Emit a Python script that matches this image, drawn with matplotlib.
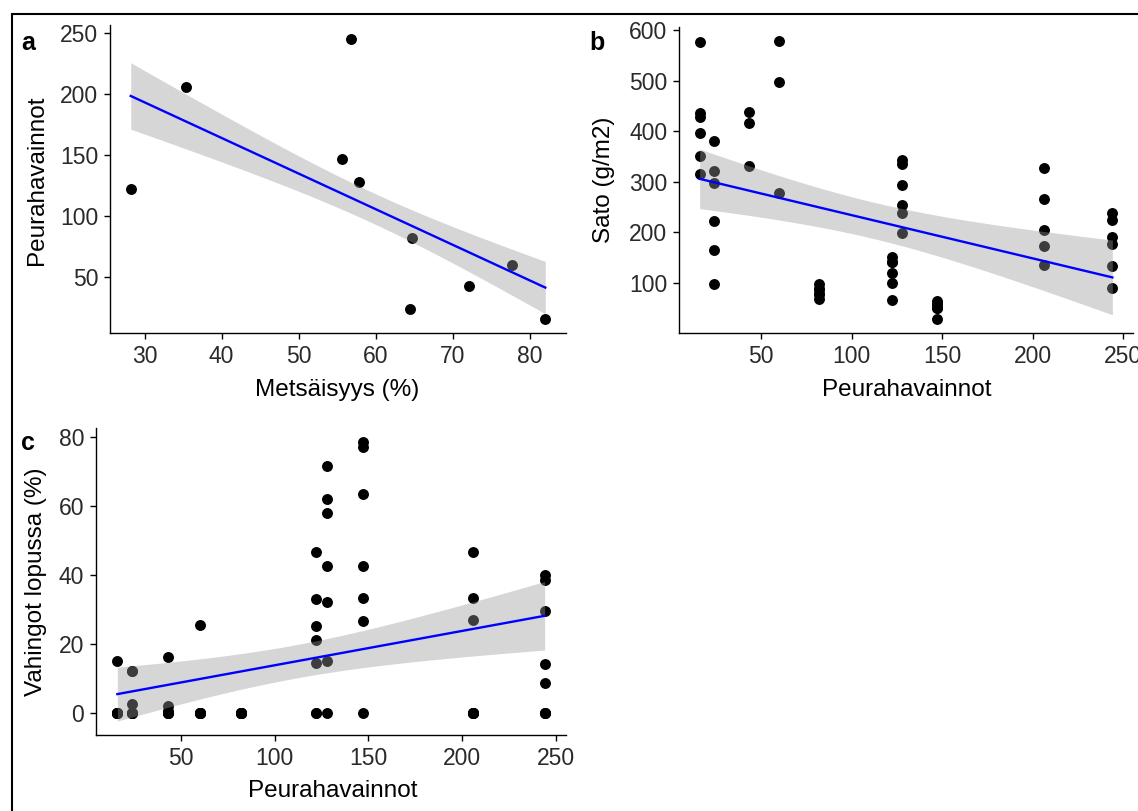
import numpy as np
import matplotlib
matplotlib.use("Agg")
import matplotlib.pyplot as plt
from matplotlib.patches import Rectangle
from math import lgamma, exp, sqrt, pi

plt.rcParams['font.family'] = ['Liberation Sans', 'DejaVu Sans']

# panel a: forest cover vs deer observations (one value per site,
# each site has several plots in the data, so rows repeat)
forest = [28.2, 35.4, 56.8, 55.6, 57.8, 64.7, 64.5, 72.1, 77.7, 82.0]
deer = [122, 206, 245, 147, 128, 82, 24, 43, 60, 16]
plots_per_site = 8

# panels b and c: deer observations per site
sites = [16, 24, 43, 60, 82, 122, 128, 147, 206, 244]
yield_by_site = [
    [576, 437, 429, 396, 352, 315],
    [380, 321, 298, 222, 165, 97],
    [438, 417, 331],
    [579, 497, 277],
    [97, 88, 88, 78, 78, 68],
    [150, 141, 141, 120, 99, 66],
    [344, 336, 293, 253, 238, 199],
    [64, 57, 57, 49, 49, 28],
    [327, 265, 204, 172, 136],
    [238, 225, 191, 177, 134, 90],
]
# damage (%); overlapping zeros hidden under the visible dots
damage_by_site = [
    [15, 0, 0, 0, 0, 0, 0],
    [12, 12, 2.5, 0, 0, 0, 0],
    [16, 2, 0.5, 0, 0, 0, 0],
    [25.5, 0, 0, 0, 0, 0, 0],
    [0, 0, 0, 0, 0, 0, 0],
    [46.5, 33, 25, 21, 14.5, 0, 0],
    [71.5, 62, 58, 42.5, 32, 15, 0],
    [78.5, 77, 63.5, 42.5, 33.3, 26.5, 0],
    [46.5, 33.3, 27, 0, 0, 0, 0, 0],
    [40, 38.5, 29.5, 14, 8.5, 0, 0, 0],
]


def flatten(groups):
    xs = [s for s, g in zip(sites, groups) for _ in g]
    ys = [v for g in groups for v in g]
    return xs, ys


def t_crit(df, q=0.975):
    g = np.linspace(0, 12, 24001)
    pdf = exp(lgamma((df + 1) / 2) - lgamma(df / 2)) / sqrt(df * pi) * (1 + g**2 / df) ** (-(df + 1) / 2)
    cdf = 0.5 + np.concatenate([[0], np.cumsum((pdf[1:] + pdf[:-1]) / 2 * np.diff(g))])
    return np.interp(q, cdf, g)


def fit_band(x, y, n=80):
    x = np.asarray(x, float)
    y = np.asarray(y, float)
    b, a = np.polyfit(x, y, 1)
    xs = np.linspace(x.min(), x.max(), n)
    fit = a + b * xs
    df = len(x) - 2
    s = sqrt(np.sum((y - (a + b * x)) ** 2) / df)
    se = s * np.sqrt(1 / len(x) + (xs - x.mean()) ** 2 / np.sum((x - x.mean()) ** 2))
    t = t_crit(df)
    return xs, fit, fit - t * se, fit + t * se


W, H = 1138, 811
fig = plt.figure(figsize=(W / 100, H / 100), dpi=100)


def px_axes(l, r, t, b):
    return fig.add_axes([l / W, 1 - b / H, (r - l) / W, (b - t) / H])


def panel(ax, x, y, xticks, yticks, fx=None, fy=None):
    ax.scatter(x, y, s=62, color='black', lw=0, zorder=1)
    xs, fit, lo, hi = fit_band(x if fx is None else fx, y if fy is None else fy)
    ax.fill_between(xs, lo, hi, color='#999999', alpha=0.4, lw=0, zorder=2)
    ax.plot(xs, fit, color='blue', lw=1.7, zorder=3)
    ax.set_xticks(xticks)
    ax.set_yticks(yticks)
    for side in ['top', 'right']:
        ax.spines[side].set_visible(False)
    for side in ['left', 'bottom']:
        ax.spines[side].set_linewidth(1.0)
    ax.tick_params(length=4.5, width=1.0, labelsize=16.5, labelcolor='#2a2a2a', pad=4)


ax_a = px_axes(110, 566, 25, 333)
panel(ax_a, forest, deer, [30, 40, 50, 60, 70, 80], [50, 100, 150, 200, 250],
      fx=np.repeat(forest, plots_per_site), fy=np.repeat(deer, plots_per_site))

xb, yb = flatten(yield_by_site)
ax_b = px_axes(679, 1133, 27, 333)
panel(ax_b, xb, yb, [50, 100, 150, 200, 250], [100, 200, 300, 400, 500, 600])

xc, yc = flatten(damage_by_site)
ax_c = px_axes(96, 566, 428, 735)
panel(ax_c, xc, yc, [50, 100, 150, 200, 250], [0, 20, 40, 60, 80])

# axis titles
fs = 17.5
fig.text(337 / W, 1 - 390 / H, 'Metsäisyys (%)', fontsize=fs, ha='center', va='center')
fig.text(907 / W, 1 - 390 / H, 'Peurahavainnot', fontsize=fs, ha='center', va='center')
fig.text(333 / W, 1 - 791 / H, 'Peurahavainnot', fontsize=fs, ha='center', va='center')
fig.text(37 / W, 1 - 180 / H, 'Peurahavainnot', fontsize=fs, ha='center', va='center', rotation=90)
fig.text(604 / W, 1 - 180 / H, 'Sato (g/m2)', fontsize=fs, ha='center', va='center', rotation=90)
fig.text(36 / W, 1 - 582 / H, 'Vahingot lopussa (%)', fontsize=fs, ha='center', va='center', rotation=90)

# panel tags
for tag, x, y in [('a', 28, 43), ('b', 597, 43), ('c', 28, 443)]:
    fig.text(x / W, 1 - y / H, tag, fontsize=18, fontweight='bold', ha='center', va='center')

# outer frame
fig.add_artist(Rectangle((12 / W, -0.1), 1.2, 1.1 - 14 / H, transform=fig.transFigure,
                         fill=False, ec='black', lw=1.5))

fig.savefig('out.png', dpi=100)
